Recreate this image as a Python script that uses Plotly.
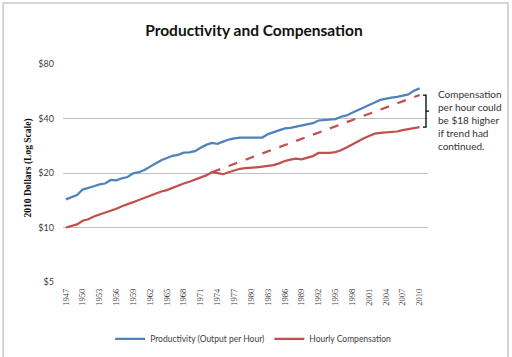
import math
import plotly.graph_objects as go

years = list(range(1947, 2011))
productivity = [14.3, 14.7, 15.1, 16.2, 16.5, 16.9, 17.3, 17.5, 18.3, 18.2,
                18.7, 19.0, 19.9, 20.2, 20.8, 21.8, 22.6, 23.5, 24.2, 24.9,
                25.2, 25.9, 26.0, 26.4, 27.6, 28.6, 29.3, 29.0, 29.8, 30.6,
                31.1, 31.4, 31.4, 31.4, 31.7, 31.4, 32.8, 33.6, 34.2, 35.3,
                35.5, 36.0, 36.4, 37.2, 37.7, 39.0, 39.3, 39.5, 39.7, 40.9,
                41.6, 43.0, 44.4, 45.8, 47.0, 49.0, 50.7, 51.7, 52.2, 52.7,
                53.6, 54.3, 57.0, 58.7]
compensation = [10.0, 10.2, 10.4, 10.9, 11.1, 11.5, 11.8, 12.0, 12.3, 12.7,
                13.1, 13.4, 13.8, 14.2, 14.6, 15.0, 15.4, 15.8, 16.1, 16.6,
                17.0, 17.5, 17.9, 18.4, 18.8, 19.4, 20.2, 20.0, 19.7, 20.2,
                20.6, 21.1, 21.3, 21.3, 21.5, 21.7, 21.8, 22.1, 22.6, 23.3,
                23.7, 24.0, 23.8, 24.3, 24.8, 25.8, 25.8, 25.8, 26.1, 26.7,
                27.7, 28.8, 29.9, 31.0, 32.0, 33.0, 33.3, 33.4, 33.5, 33.9,
                34.5, 35.0, 35.6, 35.8]
trend_years = [1973, 2010]
trend_values = [20.2, 53.9]

tick_years = years[::3]
y_ticks = [5, 10, 20, 40, 80]
y_tick_labels = ["$5", "$10", "$20", "$40", "$80"]

BLUE = "#4F81BD"
RED = "#C0504D"
TXT = "#404040"

fig = go.Figure()
fig.add_trace(go.Scatter(x=years, y=productivity, mode="lines",
                         name="Productivity (Output per Hour)",
                         line=dict(color=BLUE, width=2.25)))
fig.add_trace(go.Scatter(x=years, y=compensation, mode="lines",
                         name="Hourly Compensation",
                         line=dict(color=RED, width=2.25)))
fig.add_trace(go.Scatter(x=trend_years, y=trend_values, mode="lines",
                         showlegend=False,
                         line=dict(color=RED, width=2.25, dash="dash")))

lo, hi = math.log10(y_ticks[0]), math.log10(y_ticks[-1])


def ypaper(v):
    return (math.log10(v) - lo) / (hi - lo)


# bracket between the actual and the trend value in the final year
yt = ypaper(trend_values[-1])
yb = ypaper(compensation[-1])
ym = (yt + yb) / 2
x1, x2, x3 = 0.986, 0.9945, 1.003
fig.add_shape(type="path", xref="paper", yref="paper",
              path=f"M {x1},{yt} L {x2},{yt} L {x2},{yb} L {x1},{yb} M {x2},{ym} L {x3},{ym}",
              line=dict(color="black", width=1.3))

# outer chart border
fig.add_shape(type="rect", xref="paper", yref="paper",
              x0=-0.164, x1=1.219, y0=-0.36, y1=1.28,
              line=dict(color="#c8c8c8", width=1.5), layer="below")

fig.add_annotation(xref="paper", yref="paper", x=1.022, y=0.9,
                   xanchor="left", yanchor="top", align="left", showarrow=False,
                   text="Compensation<br>per hour could<br>be $18 higher<br>if trend had<br>continued.",
                   font=dict(family="Lato, Open Sans, sans-serif", size=10, color="#333333"))

fig.add_annotation(xref="paper", yref="paper", x=-0.092, y=0.523,
                   xanchor="center", yanchor="middle",
                   textangle=-90, showarrow=False,
                   text="<b>2010 Dollars (Log Scale)</b>",
                   font=dict(family="Liberation Serif, serif", size=9.5, color="#111111"))

fig.update_layout(
    width=512, height=357,
    margin=dict(l=63, r=84, t=64, b=75, autoexpand=False),
    paper_bgcolor="white", plot_bgcolor="white",
    title=dict(text="<b>Productivity and Compensation</b>", x=0.496, xanchor="center",
               y=0.913, yanchor="middle",
               font=dict(family="Lato, Open Sans, sans-serif", size=15.5, color="#111111")),
    xaxis=dict(range=[1946.5, 2011.5], tickvals=tick_years,
               ticktext=[str(y) for y in tick_years], tickangle=-90,
               showgrid=False, zeroline=False, showline=False, ticks="",
               ticklabelstandoff=4, automargin=False,
               tickfont=dict(family="Liberation Serif, serif", size=8.5, color=TXT)),
    yaxis=dict(type="log", range=[lo, hi], tickvals=y_ticks, ticktext=y_tick_labels,
               showgrid=True, gridcolor="#bfbfbf", gridwidth=1, zeroline=False,
               showline=False, ticks="", ticklabelstandoff=8, automargin=False,
               tickfont=dict(family="Lato, Open Sans, sans-serif", size=9, color=TXT)),
    legend=dict(orientation="h", x=0.521, xanchor="center", y=-0.261, yanchor="middle",
                font=dict(family="Lato, Open Sans, sans-serif", size=8.5, color=TXT),
                bgcolor="rgba(0,0,0,0)"),
    showlegend=True,
)

fig.write_html("out.html", config={"displayModeBar": False},
               post_script="document.body.style.margin='0px';document.body.style.overflow='hidden';")
